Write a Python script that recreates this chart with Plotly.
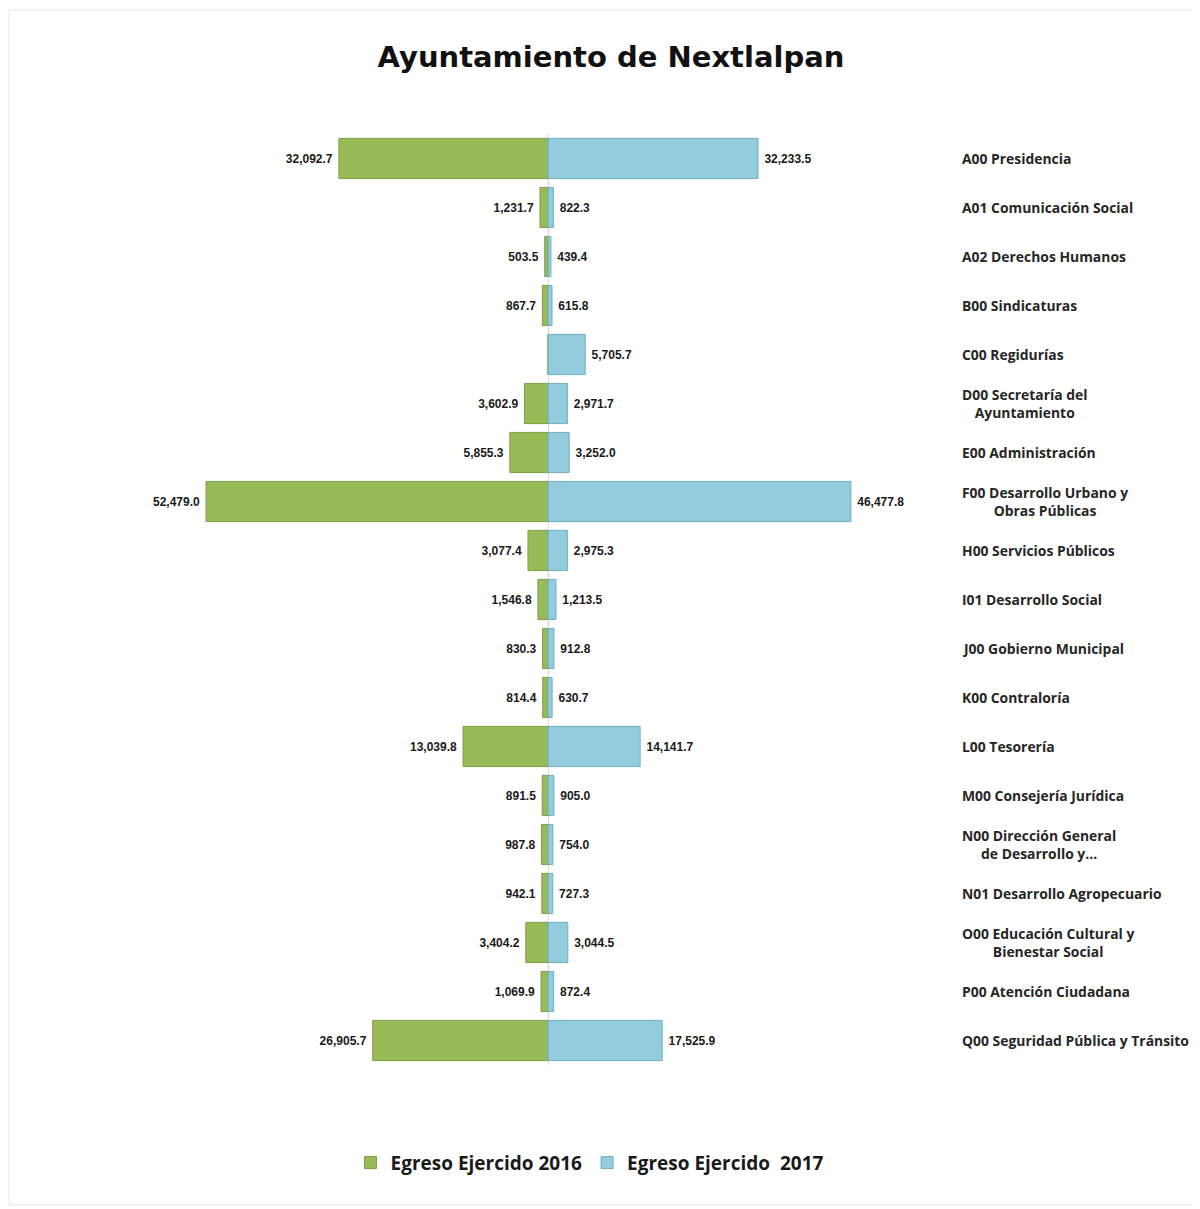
import plotly.graph_objects as go

categories = [
    "A00 Presidencia",
    "A01 Comunicación Social",
    "A02 Derechos Humanos",
    "B00 Sindicaturas",
    "C00 Regidurías",
    "D00 Secretaría del<br>Ayuntamiento",
    "E00 Administración",
    "F00 Desarrollo Urbano y<br>Obras Públicas",
    "H00 Servicios Públicos",
    "I01 Desarrollo Social",
    "J00 Gobierno Municipal",
    "K00 Contraloría",
    "L00 Tesorería",
    "M00 Consejería Jurídica",
    "N00 Dirección General<br>de Desarrollo y...",
    "N01 Desarrollo Agropecuario",
    "O00 Educación Cultural y<br>Bienestar Social",
    "P00 Atención Ciudadana",
    "Q00 Seguridad Pública y Tránsito",
]

egreso_2016 = [32092.7, 1231.7, 503.5, 867.7, 0.0, 3602.9, 5855.3, 52479.0, 3077.4,
               1546.8, 830.3, 814.4, 13039.8, 891.5, 987.8, 942.1, 3404.2, 1069.9, 26905.7]
egreso_2017 = [32233.5, 822.3, 439.4, 615.8, 5705.7, 2971.7, 3252.0, 46477.8, 2975.3,
               1213.5, 912.8, 630.7, 14141.7, 905.0, 754.0, 727.3, 3044.5, 872.4, 17525.9]

series_names = ["Egreso Ejercido 2016", "Egreso Ejercido  2017"]

ids = list(range(len(categories)))
NB = "\u00a0"


def fmt_left(v):
    return "" if v == 0 else f"<b>{v:,.1f}</b>{NB}"


def fmt_right(v):
    return "" if v == 0 else f"{NB}<b>{v:,.1f}</b>"


val_font = dict(family="Liberation Sans Narrow, Arial Narrow, Liberation Sans, Arial", size=12, color="#1a1a1a")

fig = go.Figure()
fig.add_trace(go.Bar(
    y=ids, x=[-v for v in egreso_2016], orientation="h", name=f"<b>{series_names[0]}</b>",
    marker=dict(color="#98BB58", line=dict(color="#7E9E47", width=1)),
    text=[fmt_left(v) for v in egreso_2016], textposition="outside",
    textfont=val_font, cliponaxis=False, hoverinfo="skip",
))
fig.add_trace(go.Bar(
    y=ids, x=egreso_2017, orientation="h", name=f"<b>{series_names[1]}</b>",
    marker=dict(color="#93CDDD", line=dict(color="#6FAEC2", width=1)),
    text=[fmt_right(v) for v in egreso_2017], textposition="outside",
    textfont=val_font, cliponaxis=False, hoverinfo="skip",
))

for i, c in enumerate(categories):
    fig.add_annotation(
        x=1, xref="paper", y=i, yref="y", text=f"<b>{c}</b>", showarrow=False,
        xanchor="left", yanchor="middle", align="center", xshift=8,
        font=dict(family="Open Sans", size=13.9, color="#262626"),
    )

fig.add_shape(type="rect", xref="paper", yref="paper",
              x0=-0.167, x1=1.307, y0=-0.150, y1=1.133,
              line=dict(color="#E8E8E8", width=1), fillcolor="rgba(0,0,0,0)", layer="below")

fig.update_layout(
    width=1200, height=1209,
    paper_bgcolor="white", plot_bgcolor="white",
    barmode="relative", bargap=0.18,
    margin=dict(l=136, r=256, t=126, b=152),
    title=dict(text="<b>Ayuntamiento de Nextlalpan</b>", x=0.5025, xanchor="center",
               y=0.9595, yanchor="middle",
               font=dict(family="DejaVu Sans", size=29, color="#111111")),
    xaxis=dict(range=[-62000, 62000], showticklabels=False, showgrid=False,
               zeroline=True, zerolinecolor="#D9D9D9", zerolinewidth=1, fixedrange=True),
    yaxis=dict(range=[18.5, -0.5], showticklabels=False, showgrid=False,
               zeroline=False, fixedrange=True),
    legend=dict(orientation="h", x=0.552, xanchor="center", y=-0.105, yanchor="middle",
                font=dict(family="Open Sans", size=19, color="#1a1a1a"),
                itemwidth=30, traceorder="normal"),
    showlegend=True,
)

fig.write_html("out.html")
